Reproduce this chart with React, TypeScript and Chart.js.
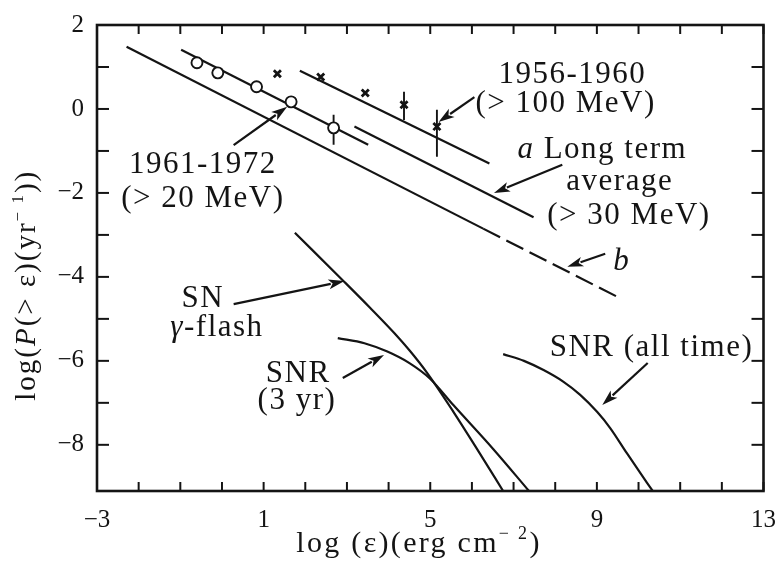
import React, { useEffect, useRef } from "react";
import { Chart, registerables } from "chart.js";

Chart.register(...registerables);

const INK = "#141414";
const SERIF = '"Liberation Serif", "Times New Roman", serif';

// Axis ticks (every unit) and the ones that carry a label
const xTickValues = [-3, -2, -1, 0, 1, 2, 3, 4, 5, 6, 7, 8, 9, 10, 11, 12, 13];
const xTickLabels = [-3, 1, 5, 9, 13];
const yTickValues = [-8, -7, -6, -5, -4, -3, -2, -1, 0, 1, 2];
const yTickLabels = [-8, -6, -4, -2, 0, 2];

// Flare observations 1961-1972 (> 20 MeV)
const obs1961X = [-0.6, -0.1, 0.83, 1.66, 2.68];
const obs1961Y = [1.1, 0.86, 0.53, 0.17, -0.45];

// Flare observations 1956-1960 (> 100 MeV)
const obs1956X = [1.33, 2.37, 3.44, 4.37, 5.16];
const obs1956Y = [0.84, 0.76, 0.38, 0.1, -0.42];

// Error bars: position, lower and upper ends
const errX = [2.68, 4.37, 5.16];
const errLow = [-0.85, -0.26, -1.14];
const errHigh = [-0.14, 0.41, -0.02];

// Straight-line fits
const fit1961X = [-0.98, 3.51];
const fit1961Y = [1.41, -0.85];
const fit1956X = [1.87, 6.42];
const fit1956Y = [0.91, -1.3];
const avgAX = [3.18, 7.48];
const avgAY = [-0.42, -2.58];
const avgBX = [-2.29, 6.27];
const avgBY = [1.48, -2.85];
const avgBExtX = [6.27, 9.6];
const avgBExtY = [-2.85, -4.53];

// Model curves
const snFlashX = [1.75, 2.94, 3.56, 4.13, 4.51, 4.92, 5.56, 6.11, 6.75];
const snFlashY = [-2.95, -4.12, -4.74, -5.33, -5.76, -6.28, -7.22, -8.08, -9.1];
const snr3X = [2.78, 3.42, 3.97, 4.51, 4.99, 5.56, 6.51, 7.37];
const snr3Y = [-5.46, -5.58, -5.78, -6.06, -6.42, -7.06, -8.1, -9.1];
const snrAllX = [6.75, 7.25, 7.72, 8.2, 8.6, 9.01, 9.32, 9.72, 10.2, 10.34];
const snrAllY = [-5.84, -6.0, -6.22, -6.5, -6.81, -7.22, -7.6, -8.2, -8.9, -9.1];

type Part = { t: string; it?: boolean; sup?: boolean };

// Text labels placed in data units
const notes: { x: number; y: number; parts: Part[] }[] = [
  { x: 8.41, y: 0.86, parts: [{ t: "1956-1960" }] },
  { x: 8.25, y: 0.17, parts: [{ t: "(> 100 MeV)" }] },
  { x: 9.13, y: -0.93, parts: [{ t: "a", it: true }, { t: " Long term" }] },
  { x: 9.55, y: -1.69, parts: [{ t: "average" }] },
  { x: 9.77, y: -2.5, parts: [{ t: "(> 30 MeV)" }] },
  { x: 9.6, y: -3.6, parts: [{ t: "b", it: true }] },
  { x: -0.46, y: -1.29, parts: [{ t: "1961-1972" }] },
  { x: -0.46, y: -2.1, parts: [{ t: "(> 20 MeV)" }] },
  { x: -0.46, y: -4.48, parts: [{ t: "SN" }] },
  { x: -0.12, y: -5.17, parts: [{ t: "γ", it: true }, { t: "-flash" }] },
  { x: 1.83, y: -6.27, parts: [{ t: "SNR" }] },
  { x: 1.8, y: -6.91, parts: [{ t: "(3 yr)" }] },
  { x: 10.31, y: -5.65, parts: [{ t: "SNR (all time)" }] },
];

// Pointer arrows, tail -> head, in data units
const pointers: { from: [number, number]; to: [number, number] }[] = [
  { from: [0.28, -0.86], to: [1.565, 0.05] },
  { from: [6.06, 0.28], to: [5.2, -0.31] },
  { from: [8.17, -1.33], to: [6.53, -2.0] },
  { from: [9.2, -3.45], to: [8.29, -3.76] },
  { from: [0.28, -4.65], to: [2.94, -4.1] },
  { from: [2.9, -6.41], to: [3.89, -5.86] },
  { from: [10.22, -6.05], to: [9.13, -7.05] },
];

const fmt = (v: number) => (v < 0 ? "\u2212" + Math.abs(v) : String(v));

function drawRich(
  ctx: CanvasRenderingContext2D,
  parts: Part[],
  x: number,
  y: number,
  size: number,
  spacing: number
) {
  const fontFor = (p: Part) =>
    `${p.it ? "italic " : ""}${p.sup ? Math.round(size * 0.6) : size}px ${SERIF}`;
  (ctx as any).letterSpacing = `${spacing}px`;
  const widths = parts.map((p) => {
    ctx.font = fontFor(p);
    return ctx.measureText(p.t).width;
  });
  const total = widths.reduce((a, b) => a + b, 0);
  let cx = x - total / 2;
  ctx.textAlign = "left";
  ctx.textBaseline = "alphabetic";
  parts.forEach((p, i) => {
    ctx.font = fontFor(p);
    ctx.fillText(p.t, cx, p.sup ? y - size * 0.42 : y);
    cx += widths[i];
  });
  (ctx as any).letterSpacing = "0px";
}

function drawArrow(ctx: CanvasRenderingContext2D, x1: number, y1: number, x2: number, y2: number) {
  const ang = Math.atan2(y2 - y1, x2 - x1);
  const c = Math.cos(ang);
  const s = Math.sin(ang);
  const head = 16;
  const half = 5;
  const bx = x2 - head * c;
  const by = y2 - head * s;
  ctx.beginPath();
  ctx.moveTo(x1, y1);
  ctx.lineTo(bx + 2 * c, by + 2 * s);
  ctx.stroke();
  ctx.beginPath();
  ctx.moveTo(x2, y2);
  ctx.lineTo(bx - half * s, by + half * c);
  ctx.lineTo(bx + 4 * c, by + 4 * s);
  ctx.lineTo(bx + half * s, by - half * c);
  ctx.closePath();
  ctx.fill();
}

const decorPlugin = {
  id: "decor",
  afterDraw(chart: any) {
    const { ctx, chartArea: a, scales } = chart;
    const xs = scales.x;
    const ys = scales.y;
    ctx.save();
    ctx.strokeStyle = INK;
    ctx.fillStyle = INK;
    ctx.lineCap = "butt";

    // frame
    ctx.lineWidth = 2.6;
    ctx.strokeRect(a.left, a.top, a.right - a.left, a.bottom - a.top);

    // inward tick marks on all four sides
    ctx.lineWidth = 2;
    const seg = (x1: number, y1: number, x2: number, y2: number) => {
      ctx.beginPath();
      ctx.moveTo(x1, y1);
      ctx.lineTo(x2, y2);
      ctx.stroke();
    };
    for (const t of xs.ticks) {
      const p = xs.getPixelForValue(t.value);
      seg(p, a.bottom, p, a.bottom - 9);
      seg(p, a.top, p, a.top + 9);
    }
    for (const t of ys.ticks) {
      const p = ys.getPixelForValue(t.value);
      seg(a.left, p, a.left + 12, p);
      seg(a.right, p, a.right - 12, p);
    }

    // pointers
    ctx.lineWidth = 2.2;
    for (const ar of pointers) {
      drawArrow(
        ctx,
        xs.getPixelForValue(ar.from[0]),
        ys.getPixelForValue(ar.from[1]),
        xs.getPixelForValue(ar.to[0]),
        ys.getPixelForValue(ar.to[1])
      );
    }

    // text labels
    const size = 31;
    for (const n of notes) {
      const cx = xs.getPixelForValue(n.x);
      const cy = ys.getPixelForValue(n.y);
      drawRich(ctx, n.parts, cx, cy + size * 0.33, size, 1.5);
    }

    // axis titles
    drawRich(
      ctx,
      [{ t: "log (ε)(erg cm" }, { t: "\u2212 2", sup: true }, { t: ")" }],
      xs.getPixelForValue(4.73),
      552,
      30,
      2.3
    );
    ctx.save();
    ctx.translate(35, ys.getPixelForValue(-4.2));
    ctx.rotate(-Math.PI / 2);
    drawRich(
      ctx,
      [
        { t: "log(" },
        { t: "P", it: true },
        { t: "(> ε)(yr" },
        { t: "\u2212 1", sup: true },
        { t: "))" },
      ],
      0,
      0,
      29,
      2
    );
    ctx.restore();

    ctx.restore();
  },
};

export default function App() {
  const ref = useRef<HTMLCanvasElement>(null);

  useEffect(() => {
    const canvas = ref.current;
    if (!canvas) return;
    const pts = (xs: number[], ys: number[]) => xs.map((x, i) => ({ x, y: ys[i] }));
    const lineDs = (xs: number[], ys: number[], extra: any = {}) => ({
      data: pts(xs, ys),
      showLine: true,
      pointRadius: 0,
      pointHoverRadius: 0,
      borderColor: INK,
      borderWidth: 2.2,
      ...extra,
    });

    const chart = new Chart(canvas, {
      type: "scatter",
      data: {
        datasets: [
          {
            label: "1961-1972 (> 20 MeV)",
            data: pts(obs1961X, obs1961Y),
            pointStyle: "circle",
            pointRadius: 5.5,
            pointBackgroundColor: "#ffffff",
            pointBorderColor: INK,
            pointBorderWidth: 1.9,
            showLine: false,
          },
          {
            label: "1956-1960 (> 100 MeV)",
            data: pts(obs1956X, obs1956Y),
            pointStyle: "crossRot",
            pointRadius: 5,
            pointBorderColor: INK,
            pointBorderWidth: 2.8,
            showLine: false,
          },
          ...errX.map((x, i) => lineDs([x, x], [errLow[i], errHigh[i]], { borderWidth: 1.9 })),
          lineDs(fit1961X, fit1961Y),
          lineDs(fit1956X, fit1956Y),
          lineDs(avgAX, avgAY),
          lineDs(avgBX, avgBY),
          lineDs(avgBExtX, avgBExtY, { borderDash: [19, 7] }),
          lineDs(snFlashX, snFlashY, { cubicInterpolationMode: "monotone" }),
          lineDs(snr3X, snr3Y, { cubicInterpolationMode: "monotone" }),
          lineDs(snrAllX, snrAllY, { cubicInterpolationMode: "monotone" }),
        ],
      },
      options: {
        responsive: false,
        animation: false,
        devicePixelRatio: 1,
        events: [],
        layout: { padding: { top: 25, right: 12, left: 0, bottom: 0 }, autoPadding: false },
        plugins: { legend: { display: false }, tooltip: { enabled: false } },
        scales: {
          x: {
            type: "linear",
            position: "bottom",
            min: -3,
            max: 13,
            grid: { display: false },
            border: { display: false },
            afterBuildTicks: (scale: any) => {
              scale.ticks = xTickValues.map((v) => ({ value: v }));
            },
            afterFit: (scale: any) => {
              scale.height = 82;
            },
            ticks: {
              autoSkip: false,
              maxRotation: 0,
              padding: 6,
              color: INK,
              font: { family: SERIF, size: 25 },
              callback: (v: any) => (xTickLabels.includes(Number(v)) ? fmt(Number(v)) : ""),
            },
          },
          y: {
            type: "linear",
            min: -9.1,
            max: 2,
            grid: { display: false },
            border: { display: false },
            afterBuildTicks: (scale: any) => {
              scale.ticks = yTickValues.map((v) => ({ value: v }));
            },
            afterFit: (scale: any) => {
              scale.width = 97;
            },
            ticks: {
              autoSkip: false,
              padding: 5,
              color: INK,
              font: { family: SERIF, size: 25 },
              callback: (v: any) => (yTickLabels.includes(Number(v)) ? fmt(Number(v)) : ""),
            },
          },
        },
      } as any,
      plugins: [decorPlugin],
    });

    return () => chart.destroy();
  }, []);

  return (
    <div style={{ position: "absolute", left: 0, top: 0, width: 782, height: 573, background: "#ffffff" }}>
      <canvas ref={ref} width={782} height={573} style={{ display: "block", width: 782, height: 573 }} />
    </div>
  );
}
